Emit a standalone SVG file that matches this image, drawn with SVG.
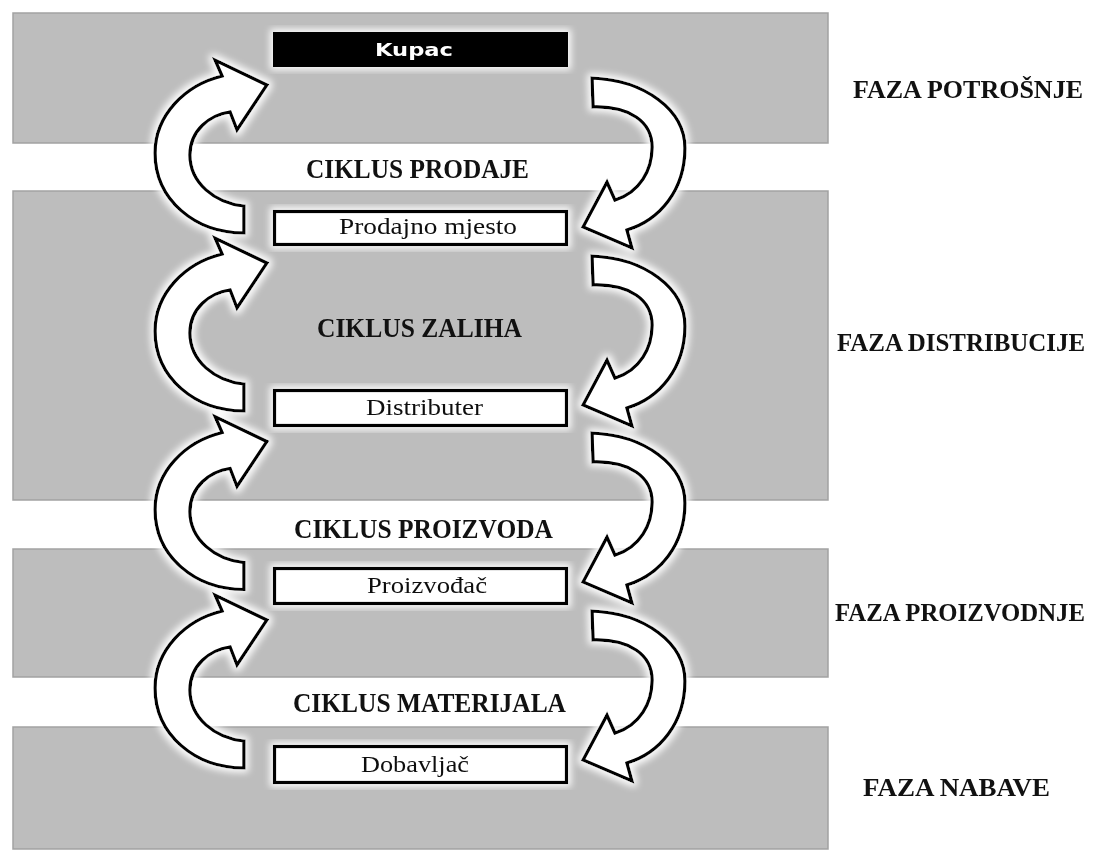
<svg xmlns="http://www.w3.org/2000/svg" xmlns:xlink="http://www.w3.org/1999/xlink" width="1105" height="852" viewBox="0 0 1105 852">
<style>
.band{fill:#bdbdbd;stroke:#a2a2a2;stroke-width:1.5}
.box{fill:#fff;stroke:#000;stroke-width:3.2}
.boxt{font-family:"Liberation Serif",serif;font-size:24px;fill:#111;text-anchor:middle}
.cyc{font-family:"Liberation Serif",serif;font-size:27px;font-weight:bold;fill:#111}
.faza{font-family:"Liberation Serif",serif;font-size:25px;font-weight:bold;fill:#111}
.arr{fill:#fff;stroke:#000;stroke-width:3.2;stroke-linejoin:miter}
</style>
<defs>
<filter id="glow" x="-20%" y="-20%" width="140%" height="140%">
<feMorphology in="SourceAlpha" operator="dilate" radius="3" result="d"/>
<feGaussianBlur in="d" stdDeviation="3.5" result="b"/>
<feFlood flood-color="#ffffff" flood-opacity="0.95"/>
<feComposite in2="b" operator="in" result="g"/>
<feMerge><feMergeNode in="g"/><feMergeNode in="SourceGraphic"/></feMerge>
</filter>
<path id="arrL" class="arr" d="M244,206 C215,203 190,183 190,155 C190,130 210,115 230,112 L237,130 L267,85 L215,60 L222,76 C185,85 155,115 155,153 C155,200 195,233 244,233 Z"/>
<path id="arrR" class="arr" d="M592,78 C645,80 685,110 685,148 C685,190 660,220 627,230 L632,248 L583,227 L607,182 L615,200 C640,192 652,170 652,147 C652,122 630,106 593,107 Z"/>
</defs>
<rect width="1105" height="852" fill="#fff"/>
<g id="bands">
<rect class="band" x="13" y="13" width="815" height="130"/>
<rect class="band" x="13" y="191" width="815" height="309"/>
<rect class="band" x="13" y="549" width="815" height="128"/>
<rect class="band" x="13" y="727" width="815" height="122"/>
</g>
<g id="connectors" filter="url(#glow)">
<use xlink:href="#arrL"/>
<use xlink:href="#arrL" transform="translate(0,178)"/>
<use xlink:href="#arrL" transform="translate(0,356.5)"/>
<use xlink:href="#arrL" transform="translate(0,535)"/>
<use xlink:href="#arrR"/>
<use xlink:href="#arrR" transform="translate(0,178)"/>
<use xlink:href="#arrR" transform="translate(0,355)"/>
<use xlink:href="#arrR" transform="translate(0,533)"/>
</g>
<g id="kupac" filter="url(#glow)">
<rect x="273" y="32" width="295" height="35" fill="#000"/>
<text x="414" y="56" font-family="DejaVu Sans, sans-serif" font-weight="bold" font-size="17" fill="#fff" text-anchor="middle" textLength="78" lengthAdjust="spacingAndGlyphs">Kupac</text>
</g>
<g id="prodajno-mjesto" filter="url(#glow)">
<rect class="box" x="274.5" y="211.5" width="292" height="33"/>
<text class="boxt" x="428" y="234" textLength="178" lengthAdjust="spacingAndGlyphs">Prodajno mjesto</text>
</g>
<g id="distributer" filter="url(#glow)">
<rect class="box" x="274.5" y="390.5" width="292" height="35"/>
<text class="boxt" x="424.5" y="415" textLength="117" lengthAdjust="spacingAndGlyphs">Distributer</text>
</g>
<g id="proizvodac" filter="url(#glow)">
<rect class="box" x="274.5" y="568.5" width="292" height="35"/>
<text class="boxt" x="427" y="593" textLength="120" lengthAdjust="spacingAndGlyphs">Proizvođač</text>
</g>
<g id="dobavljac" filter="url(#glow)">
<rect class="box" x="274.5" y="746.5" width="292" height="36"/>
<text class="boxt" x="415" y="772" textLength="108" lengthAdjust="spacingAndGlyphs">Dobavljač</text>
</g>
<g id="cycle-labels">
<text class="cyc" x="306" y="178" textLength="223" lengthAdjust="spacingAndGlyphs">CIKLUS PRODAJE</text>
<text class="cyc" x="317" y="337" textLength="205" lengthAdjust="spacingAndGlyphs">CIKLUS ZALIHA</text>
<text class="cyc" x="294" y="538" textLength="259" lengthAdjust="spacingAndGlyphs">CIKLUS PROIZVODA</text>
<text class="cyc" x="293" y="712" textLength="273" lengthAdjust="spacingAndGlyphs">CIKLUS MATERIJALA</text>
</g>
<g id="phase-labels">
<text class="faza" x="853" y="98" textLength="230" lengthAdjust="spacingAndGlyphs">FAZA POTROŠNJE</text>
<text class="faza" x="837" y="351" textLength="248" lengthAdjust="spacingAndGlyphs">FAZA DISTRIBUCIJE</text>
<text class="faza" x="835" y="621" textLength="250" lengthAdjust="spacingAndGlyphs">FAZA PROIZVODNJE</text>
<text class="faza" x="863" y="796" textLength="187" lengthAdjust="spacingAndGlyphs">FAZA NABAVE</text>
</g>
</svg>
